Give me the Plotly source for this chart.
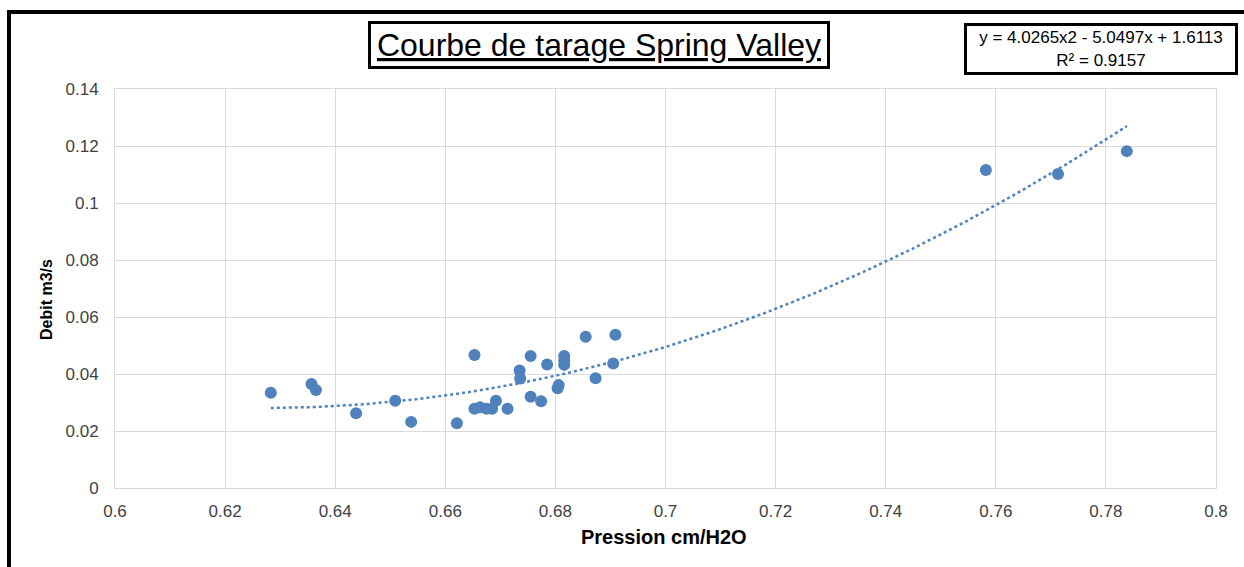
import numpy as np
import plotly.graph_objects as go

# Data
pression = [0.6283, 0.6357, 0.6365, 0.6438, 0.6509, 0.6538, 0.6621, 0.6653, 0.6653,
            0.6663, 0.6675, 0.6685, 0.6692, 0.6713, 0.6735, 0.6736, 0.6755, 0.6755,
            0.6774, 0.6785, 0.6806, 0.6804, 0.6816, 0.6816, 0.6816, 0.6855, 0.6909,
            0.6905, 0.6873, 0.7582, 0.7713, 0.7838]
debit = [0.0334, 0.0365, 0.0344, 0.0262, 0.0306, 0.0232, 0.0227, 0.0467, 0.0278,
         0.0283, 0.0278, 0.0278, 0.0306, 0.0278, 0.0412, 0.0384, 0.0463, 0.0320,
         0.0304, 0.0433, 0.0361, 0.0350, 0.0463, 0.0447, 0.0432, 0.0531, 0.0538,
         0.0437, 0.0385, 0.1116, 0.1102, 0.1182]

# Trendline coefficients shown on the chart
coef_a, coef_b, coef_c = 4.0265, -5.0497, 1.6113
r2 = 0.9157

x_ticks = [0.6, 0.62, 0.64, 0.66, 0.68, 0.7, 0.72, 0.74, 0.76, 0.78, 0.8]
x_labels = ["0.6", "0.62", "0.64", "0.66", "0.68", "0.7", "0.72", "0.74", "0.76", "0.78", "0.8"]
y_ticks = [0, 0.02, 0.04, 0.06, 0.08, 0.1, 0.12, 0.14]
y_labels = ["0", "0.02", "0.04", "0.06", "0.08", "0.1", "0.12", "0.14"]

title_text = "Courbe de tarage Spring Valley"
x_title = "Pression cm/H2O"
y_title = "Debit m3/s"

tx = np.linspace(min(pression), max(pression), 200)
ty = coef_a * tx ** 2 + coef_b * tx + coef_c

blue = "#4F81BD"
fnt = "Liberation Sans, Arial, sans-serif"
tickcol = "#3F3F3F"

fig = go.Figure()
fig.add_trace(go.Scatter(x=tx, y=ty, mode="lines",
                         line=dict(color=blue, width=2.5, dash="dot"), showlegend=False))
fig.add_trace(go.Scatter(x=pression, y=debit, mode="markers",
                         marker=dict(size=12, color=blue), showlegend=False))

W, H = 1244, 567
L, R, T, B = 115, 28, 89, 79
pw, ph = W - L - R, H - T - B

def px(x):
    return (x - L) / pw

def py(y):
    return (H - B - y) / ph

fig.update_layout(
    width=W, height=H,
    margin=dict(l=L, r=R, t=T, b=B),
    paper_bgcolor="white", plot_bgcolor="white",
    font=dict(family=fnt, color=tickcol, size=17),
    xaxis=dict(range=[0.6, 0.8], tickvals=x_ticks, ticktext=x_labels,
               showgrid=True, gridcolor="#D9D9D9", gridwidth=1,
               showline=True, linecolor="#D9D9D9", linewidth=1, mirror=True,
               zeroline=False, ticks="", ticklabelstandoff=8,
               tickfont=dict(size=17, color=tickcol)),
    yaxis=dict(range=[0, 0.14], tickvals=y_ticks, ticktext=y_labels,
               showgrid=True, gridcolor="#D9D9D9", gridwidth=1,
               showline=True, linecolor="#D9D9D9", linewidth=1, mirror=True,
               zeroline=False, ticks="", ticklabelstandoff=12,
               tickfont=dict(size=17, color=tickcol)),
    annotations=[
        dict(text="<u>" + title_text + "</u>", xref="paper", yref="paper",
             x=px(598.5), y=py(45.5), xanchor="center", yanchor="middle",
             showarrow=False, font=dict(family=fnt, size=32, color="black"),
             bordercolor="black", borderwidth=3, borderpad=2, width=452, height=38),
        dict(text="y = 4.0265x2 - 5.0497x + 1.6113<br>R² = %.4f" % r2,
             xref="paper", yref="paper",
             x=px(1101), y=py(48.5), xanchor="center", yanchor="middle",
             showarrow=False, font=dict(family=fnt, size=17, color="black"),
             align="center",
             bordercolor="black", borderwidth=3, borderpad=1, width=266, height=44),
        dict(text="<b>" + x_title + "</b>", xref="paper", yref="paper",
             x=px(664), y=py(537), xanchor="center", yanchor="middle",
             showarrow=False, font=dict(family=fnt, size=20, color="black")),
        dict(text="<b>" + y_title + "</b>", xref="paper", yref="paper",
             x=px(46), y=py(300), xanchor="center", yanchor="middle", textangle=-90,
             showarrow=False, font=dict(family=fnt, size=16, color="black")),
    ],
    shapes=[
        dict(type="line", xref="paper", yref="paper",
             x0=px(9), x1=px(9), y0=py(H + 5), y1=py(10),
             line=dict(color="black", width=4)),
        dict(type="line", xref="paper", yref="paper",
             x0=px(7), x1=px(W + 5), y0=py(12), y1=py(12),
             line=dict(color="black", width=4)),
    ],
)

fig.write_html("out.html", config={"displayModeBar": False},
               post_script="document.body.style.margin='0';document.body.style.overflow='hidden';")
